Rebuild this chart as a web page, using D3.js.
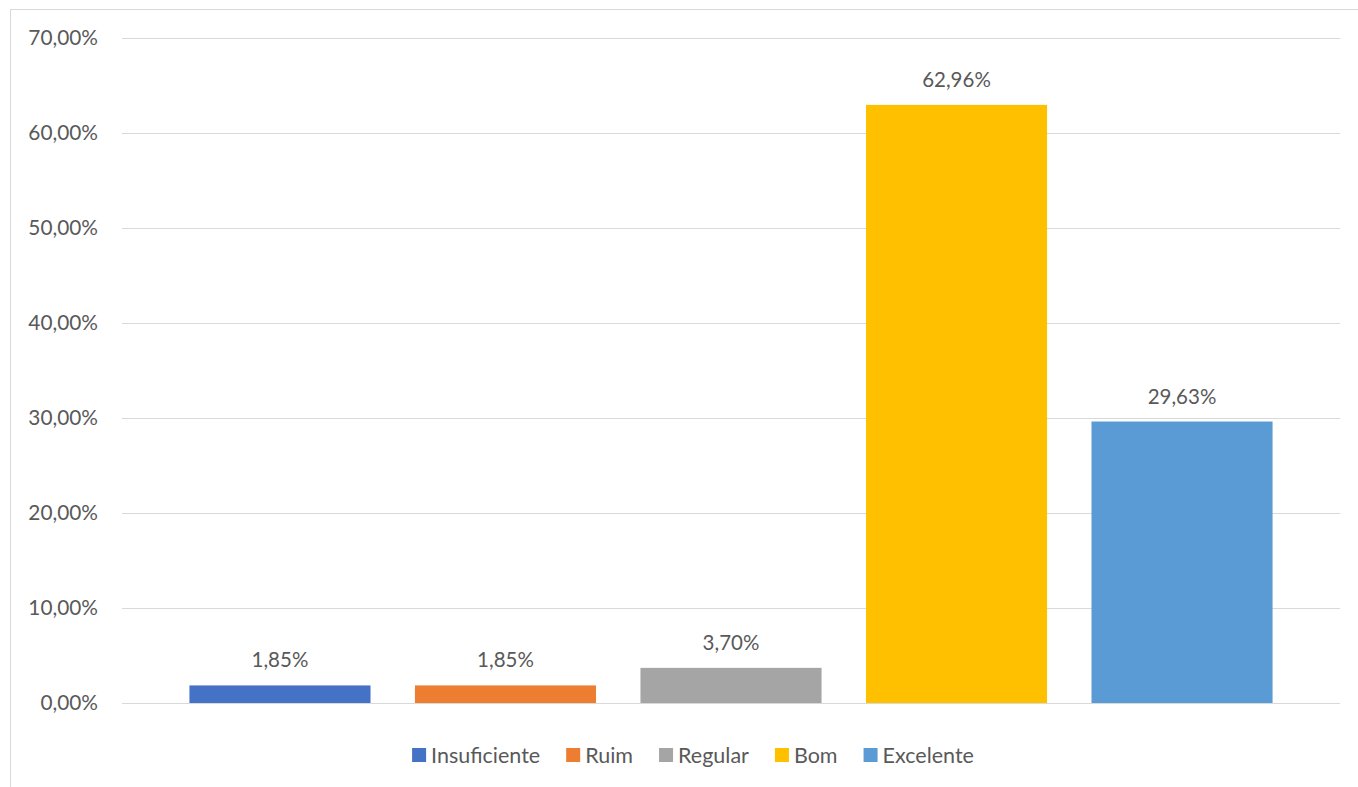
<!DOCTYPE html>
<html><head><meta charset="utf-8">
<script src="https://cdn.jsdelivr.net/npm/d3@7"></script>
<style>body{margin:0;background:#fff}svg{display:block}</style>
</head><body><svg id="c" width="1358" height="787"></svg>
<script>
const categories = ["Insuficiente","Ruim","Regular","Bom","Excelente"];
const values = [1.85, 1.85, 3.70, 62.96, 29.63];
const colors = ["#4472C4","#ED7D31","#A5A5A5","#FFC000","#5B9BD5"];
const yTicks = [0,10,20,30,40,50,60,70];

const svg = d3.select("#c");
const font = "Lato, 'Open Sans', sans-serif";
const textColor = "#595959";
const fmt = v => v.toFixed(2).replace(".", ",") + "%";

// chart border
svg.append("rect").attr("x",10.5).attr("y",9.5).attr("width",1360).attr("height",800)
  .attr("fill","none").attr("stroke","#d9d9d9").attr("stroke-width",1);

const x = d3.scaleBand().domain(categories).range([122,1340]).paddingInner(0.197).paddingOuter(0.299);
const y = d3.scaleLinear().domain([0,70]).range([703,38]);

// gridlines
svg.append("g").selectAll("line").data(yTicks).join("line")
  .attr("x1",122).attr("x2",1340)
  .attr("y1",d=>Math.round(y(d))+0.5).attr("y2",d=>Math.round(y(d))+0.5)
  .attr("stroke","#d9d9d9").attr("stroke-width",1);

// y-axis labels
svg.append("g").selectAll("text").data(yTicks).join("text")
  .attr("x",98).attr("y",d=>y(d)).attr("dy","0.35em")
  .attr("text-anchor","end").attr("font-family",font).attr("font-size",20.8)
  .attr("fill",textColor).text(d=>fmt(d));

// bars
svg.append("g").selectAll("rect").data(values).join("rect")
  .attr("x",(d,i)=>x(categories[i])).attr("width",x.bandwidth())
  .attr("y",d=>y(d)).attr("height",d=>y(0)-y(d))
  .attr("fill",(d,i)=>colors[i]);

// data labels
svg.append("g").selectAll("text").data(values).join("text")
  .attr("x",(d,i)=>x(categories[i])+x.bandwidth()/2).attr("y",d=>y(d)-18)
  .attr("text-anchor","middle").attr("font-family",font).attr("font-size",20.5)
  .attr("fill",textColor).text(d=>fmt(d));

// legend
const lg = svg.append("g");
let cx = 0;
const gap = 26;
categories.forEach((c,i)=>{
  const g = lg.append("g");
  g.append("rect").attr("x",0).attr("y",-7).attr("width",14).attr("height",14).attr("fill",colors[i]);
  const t = g.append("text").attr("x",19).attr("y",0).attr("dy","0.35em")
    .attr("font-family",font).attr("font-size",21.5).attr("fill",textColor).text(c);
  const w = 19 + t.node().getComputedTextLength();
  g.attr("transform",`translate(${cx},755)`);
  cx += w + gap;
});
const total = cx - gap;
lg.attr("transform",`translate(${693 - total/2},0)`);
</script></body></html>
